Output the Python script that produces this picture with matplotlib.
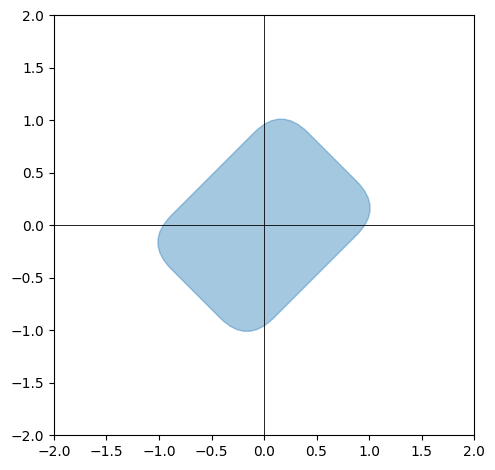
import numpy as np
import matplotlib
matplotlib.use("Agg")
import matplotlib.pyplot as plt
from matplotlib.patches import FancyBboxPatch
from matplotlib.transforms import Affine2D

# Shape parameters (rounded rectangle in a frame rotated 45 degrees)
half_length = 0.92      # half extent along the (1, 1) direction
half_width = 0.69       # half extent along the (-1, 1) direction
corner_radius = 0.36
rotation_deg = 45

axis_limits = [-2.0, 2.0]
tick_values = [-2.0, -1.5, -1.0, -0.5, 0.0, 0.5, 1.0, 1.5, 2.0]

fig = plt.figure(figsize=(4.95, 4.70), dpi=100)
ax = fig.add_axes([54 / 495, 34.5 / 470, 420 / 495, 420.5 / 470])

patch = FancyBboxPatch(
    (-half_length, -half_width), 2 * half_length, 2 * half_width,
    boxstyle=f"round,pad=0,rounding_size={corner_radius}",
    facecolor="C0", edgecolor="C0", alpha=0.4, linewidth=1.0,
    transform=Affine2D().rotate_deg(rotation_deg) + ax.transData,
)
ax.add_patch(patch)

ax.axhline(0, color="k", linewidth=0.6)
ax.axvline(0, color="k", linewidth=0.6)

ax.set_xlim(axis_limits)
ax.set_ylim(axis_limits)
ax.set_xticks(tick_values)
ax.set_yticks(tick_values)
ax.set_aspect("equal")

fig.savefig("out.png", dpi=100)
